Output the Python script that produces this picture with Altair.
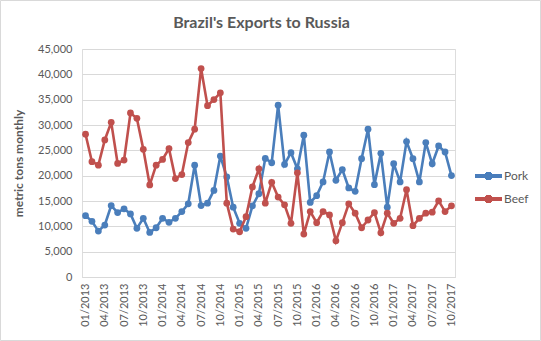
import altair as alt
import pandas as pd

# Category labels (monthly, 01/2013 .. 10/2017)
months = []
for y in range(2013, 2018):
    for m in range(1, 13):
        if y == 2017 and m > 10:
            break
        months.append(f"{m:02d}/{y}")

tick_labels = months[::3]

pork = [12110, 11000, 9060, 10260, 14100, 12710, 13450, 12450, 9600, 11590,
        8800, 9720, 11590, 10800, 11590, 12910, 14440, 22070, 14100, 14580,
        17090, 23860, 19760, 13780, 10600, 9600, 14040, 16430, 23410, 22550,
        33900, 22210, 24540, 21350, 27990, 14710, 16040, 18770, 24670, 19090,
        21210, 17570, 16900, 23350, 29180, 18230, 24400, 13780, 22350, 18770,
        26730, 23350, 18770, 26530, 22350, 25860, 24670, 20020]

beef = [28190, 22750, 22070, 27050, 30520, 22410, 23070, 32370, 31310, 25200,
        18170, 22070, 23210, 25340, 19420, 20220, 26530, 29180, 41140, 33820,
        35020, 36350, 14580, 9460, 8930, 11910, 17770, 21350, 14580, 18690,
        15780, 14240, 10600, 20560, 8470, 12910, 10720, 12910, 12250, 7130,
        10720, 14440, 12590, 9720, 11250, 12710, 8730, 12590, 10600, 11590,
        17230, 10120, 11590, 12590, 12790, 15040, 12910, 14040]

series = ["Pork", "Beef"]
colors = ["#4A7EBB", "#C0504D"]
title_text = ["Brazil's Exports to Russia"]

df = pd.DataFrame({"month": months, "Pork": pork, "Beef": beef}).melt(
    id_vars="month", var_name="series", value_name="tons")

FONT = "Lato"
GRAY = "#595959"

x_enc = alt.X("month:O", sort=months, scale=alt.Scale(type="point", padding=0.55),
              axis=alt.Axis(values=tick_labels, labelAngle=-90, title=None,
                            domainColor="#D9D9D9", ticks=False, labelPadding=6,
                            labelFontSize=11, labelColor=GRAY, labelFont=FONT,
                            grid=False))
y_enc = alt.Y("tons:Q", scale=alt.Scale(domain=[0, 45000]),
              axis=alt.Axis(values=list(range(0, 45001, 5000)), format=",.0f",
                            title="metric tons monthly", titleFont=FONT,
                            titleFontSize=12, titleFontWeight="bold", titleColor=GRAY,
                            titlePadding=12, domain=False, ticks=False, labelPadding=10,
                            labelFontSize=11, labelColor=GRAY, labelFont=FONT,
                            gridColor="#D9D9D9"))
color_enc = alt.Color("series:N", scale=alt.Scale(domain=series, range=colors), legend=None)

layers = []
for s in series:
    layers.append(
        alt.Chart(df).transform_filter(alt.datum.series == s)
        .mark_line(strokeWidth=2.6, point=alt.OverlayMarkDef(size=46, filled=True, opacity=1))
        .encode(x=x_enc, y=y_enc, color=color_enc)
    )

# legend drawn manually
leg_y = [127, 150]
for s, c, ly in zip(series, colors, leg_y):
    layers.append(alt.Chart(df).mark_rule(strokeWidth=2.6, color=c).encode(
        x=alt.value(393), x2=alt.value(420), y=alt.value(ly)))
    layers.append(alt.Chart(df).mark_point(filled=True, size=46, color=c, opacity=1).encode(
        x=alt.value(406.5), y=alt.value(ly)))
    layers.append(alt.Chart(pd.DataFrame({"t": [s]})).mark_text(
        align="left", baseline="middle", font=FONT, fontSize=12, color=GRAY).encode(
        x=alt.value(422), y=alt.value(ly), text="t:N"))

# title as text
layers.append(alt.Chart(pd.DataFrame({"t": title_text})).mark_text(
    align="center", baseline="alphabetic", font=FONT, fontSize=16, fontWeight="bold",
    color=GRAY).encode(x=alt.value(179.5), y=alt.value(-21), text="t:N"))

# outer border
layers.append(alt.Chart(pd.DataFrame({"a": [0]})).mark_rect(
    fillOpacity=0, stroke="#D9D9D9", strokeWidth=1).encode(
    x=alt.value(-81.5), x2=alt.value(541 - 82 - 0.5),
    y=alt.value(-48.5), y2=alt.value(341 - 49 - 0.5)))

chart = alt.layer(*layers).properties(
    width=373, height=228,
    padding={"left": 82, "top": 49, "right": 86, "bottom": 64},
    autosize=alt.AutoSizeParams(type="none"),
).configure_view(stroke=None).configure(background="white")

chart.save("out.html", embed_options={"renderer": "svg", "actions": False})
